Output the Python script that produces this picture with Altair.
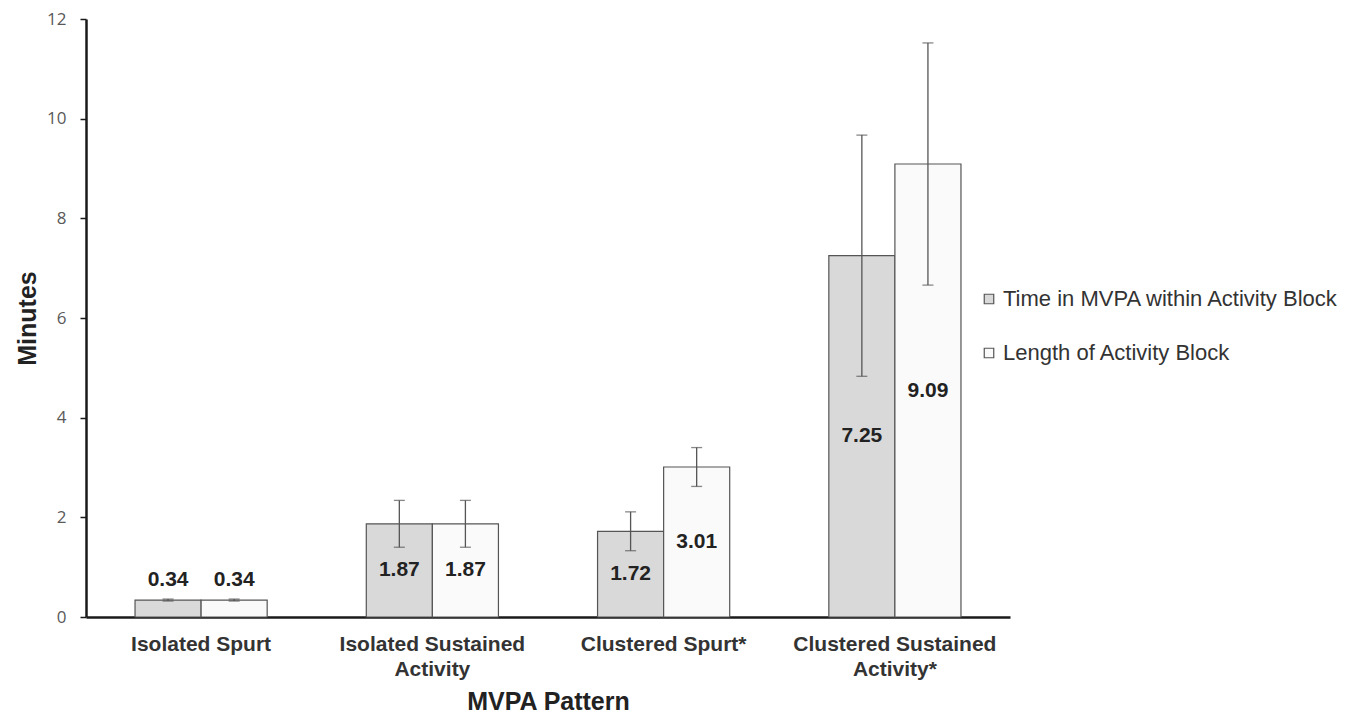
import altair as alt
import pandas as pd

categories = ["Isolated Spurt", "Isolated Sustained\nActivity", "Clustered Spurt*", "Clustered Sustained\nActivity*"]
series = ["Time in MVPA within Activity Block", "Length of Activity Block"]
time_in_mvpa = [0.34, 1.87, 1.72, 7.25]
block_length = [0.34, 1.87, 3.01, 9.09]
time_err = [0.02, 0.47, 0.39, 2.42]
block_err = [0.02, 0.47, 0.39, 2.43]
value_labels_time = ["0.34", "1.87", "1.72", "7.25"]
value_labels_block = ["0.34", "1.87", "3.01", "9.09"]

rows = []
for i, c in enumerate(categories):
    rows.append(dict(cat=c, series=series[0], value=time_in_mvpa[i], err=time_err[i], lab=value_labels_time[i]))
    rows.append(dict(cat=c, series=series[1], value=block_length[i], err=block_err[i], lab=value_labels_block[i]))
df = pd.DataFrame(rows)

FONT = "Liberation Sans"

x_enc = alt.X("cat:N", sort=categories, title="MVPA Pattern",
              scale=alt.Scale(paddingInner=0.4286, paddingOuter=0.212),
              axis=alt.Axis(labelExpr="split(datum.value, '\\n')", labelAngle=0,
                            labelFont=FONT, labelFontSize=21, labelFontWeight="bold",
                            labelColor="#333333", labelPadding=16, labelLineHeight=25,
                            labelLimit=0, ticks=False, domainColor="#1a1a1a", domainWidth=2.5,
                            titleFont=FONT, titleFontSize=25, titleFontWeight="bold",
                            titleColor="#222222", titlePadding=10))
xoff = alt.XOffset("series:N", sort=series)

base = alt.Chart(df)

bars = base.mark_bar(stroke="#555555", strokeWidth=1.2).encode(
    x=x_enc,
    xOffset=xoff,
    y=alt.Y("value:Q", title="Minutes",
            scale=alt.Scale(domain=[0, 12]),
            axis=alt.Axis(values=[0, 2, 4, 6, 8, 10, 12], grid=False,
                          labelFont="Open Sans", labelFontSize=17, labelColor="#595959",
                          labelPadding=14, tickSize=6, tickColor="#1a1a1a", tickWidth=1.5,
                          domainColor="#1a1a1a", domainWidth=2.5,
                          titleFont=FONT, titleFontSize=25, titleFontWeight="bold",
                          titleColor="#222222", titlePadding=6)),
    fill=alt.Fill("series:N", sort=series,
                  scale=alt.Scale(domain=series, range=["#d9d9d9", "#fafafa"]),
                  legend=alt.Legend(title=None, orient="none", legendX=892, legendY=269,
                                    symbolType="square", symbolSize=90,
                                    symbolStrokeColor="#555555", symbolStrokeWidth=1.2,
                                    labelFont=FONT, labelFontSize=22, labelColor="#333333",
                                    labelLimit=0, rowPadding=32, labelOffset=3)),
)

rules = base.transform_calculate(
    lo="datum.value - datum.err", hi="datum.value + datum.err"
).mark_rule(color="#555555", strokeWidth=1.3).encode(
    x=alt.X("cat:N", sort=categories), xOffset=xoff,
    y="lo:Q", y2="hi:Q",
)

caps_hi = base.transform_calculate(hi="datum.value + datum.err").mark_tick(
    color="#555555", thickness=1.3, size=11
).encode(x=alt.X("cat:N", sort=categories), xOffset=xoff, y="hi:Q")

caps_lo = base.transform_calculate(lo="datum.value - datum.err").mark_tick(
    color="#555555", thickness=1.3, size=11
).encode(x=alt.X("cat:N", sort=categories), xOffset=xoff, y="lo:Q")

labels = base.transform_calculate(
    ly="datum.value < 1 ? datum.value + 0.4 : datum.value / 2"
).mark_text(font=FONT, fontSize=21, fontWeight="bold", color="#222222", baseline="middle").encode(
    x=alt.X("cat:N", sort=categories), xOffset=xoff,
    y="ly:Q", text="lab:N",
)

chart = alt.layer(bars, rules, caps_hi, caps_lo, labels).properties(
    width=924, height=598,
    background="white",
    autosize=alt.AutoSizeParams(type="none"),
    padding={"left": 78, "top": 11, "right": 347, "bottom": 98},
).configure_view(strokeWidth=0)

chart.save("out.html", embed_options={"renderer": "svg", "actions": False})
